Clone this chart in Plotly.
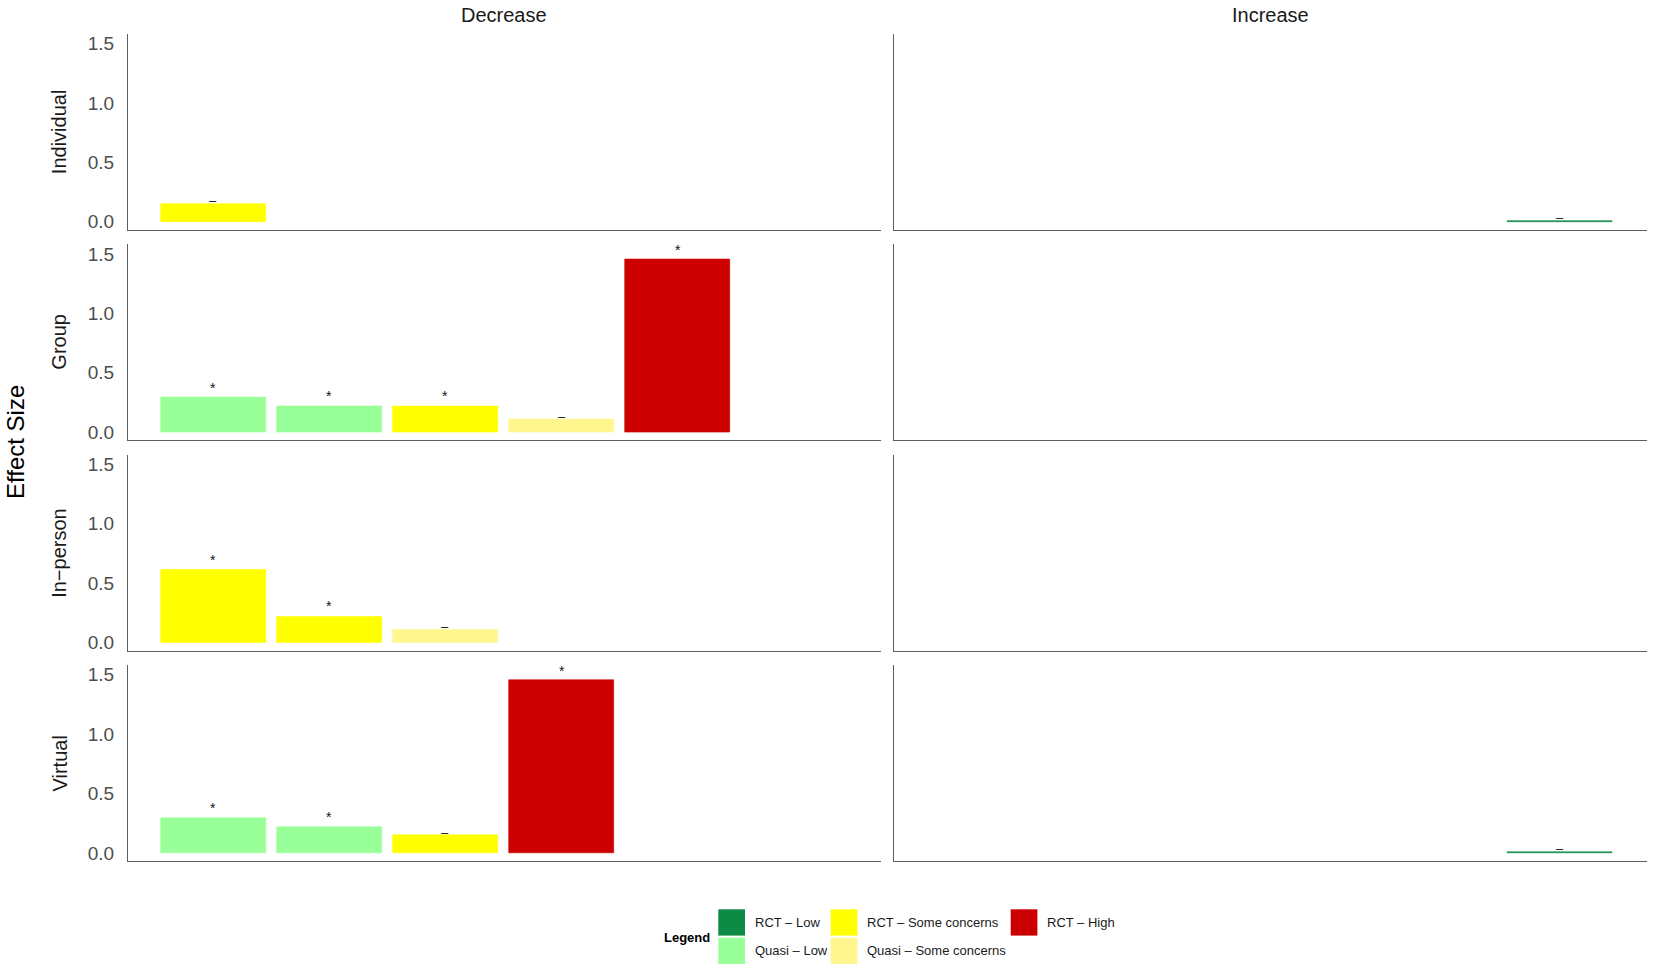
import plotly.graph_objects as go
from plotly.subplots import make_subplots

# ---------------- data ----------------
row_names = ["Individual", "Group", "In\u2212person", "Virtual"]
col_names = ["Decrease", "Increase"]

bar_row = ["Individual", "Individual",
           "Group", "Group", "Group", "Group", "Group",
           "In\u2212person", "In\u2212person", "In\u2212person",
           "Virtual", "Virtual", "Virtual", "Virtual", "Virtual"]
bar_col = ["Decrease", "Increase",
           "Decrease", "Decrease", "Decrease", "Decrease", "Decrease",
           "Decrease", "Decrease", "Decrease",
           "Decrease", "Decrease", "Decrease", "Decrease", "Increase"]
bar_pos = [1, 6,
           1, 2, 3, 4, 5,
           1, 2, 3,
           1, 2, 3, 4, 6]
bar_value = [0.15, 0.01,
             0.29, 0.22, 0.22, 0.11, 1.45,
             0.61, 0.22, 0.11,
             0.29, 0.22, 0.15, 1.45, 0.01]
bar_group = ["RCT \u2013 Some concerns", "RCT \u2013 Low",
             "Quasi \u2013 Low", "Quasi \u2013 Low", "RCT \u2013 Some concerns",
             "Quasi \u2013 Some concerns", "RCT \u2013 High",
             "RCT \u2013 Some concerns", "RCT \u2013 Some concerns", "Quasi \u2013 Some concerns",
             "Quasi \u2013 Low", "Quasi \u2013 Low", "RCT \u2013 Some concerns",
             "RCT \u2013 High", "RCT \u2013 Low"]
bar_sig = ["\u2013", "\u2013",
           "*", "*", "*", "\u2013", "*",
           "*", "*", "\u2013",
           "*", "*", "\u2013", "*", "\u2013"]

legend_groups = ["RCT \u2013 Low", "Quasi \u2013 Low",
                 "RCT \u2013 Some concerns", "Quasi \u2013 Some concerns",
                 "RCT \u2013 High"]
group_colors = {
    "RCT \u2013 Low": "#0E8A47",
    "Quasi \u2013 Low": "#99FF99",
    "RCT \u2013 Some concerns": "#FFFF00",
    "Quasi \u2013 Some concerns": "#FFF68F",
    "RCT \u2013 High": "#CC0000",
}

y_ticks = [0.0, 0.5, 1.0, 1.5]

# ---------------- layout geometry ----------------
W, H = 1654, 971
ML, MR, MT, MB = 128, 7, 34, 110
PW = W - ML - MR
PH = H - MT - MB
FONT = "Liberation Sans, Arial, Helvetica, sans-serif"


def px_x(x):
    return (x - ML) / PW


def px_y(y):
    return (MT + PH - y) / PH


fig = make_subplots(rows=4, cols=2, shared_xaxes=False, shared_yaxes=False,
                    vertical_spacing=0.0175, horizontal_spacing=0.009)

for ri, rn in enumerate(row_names):
    for ci, cn in enumerate(col_names):
        k = ri * 2 + ci
        suffix = "" if k == 0 else str(k + 1)
        idx = [i for i in range(len(bar_value)) if bar_row[i] == rn and bar_col[i] == cn]
        fig.add_trace(go.Bar(
            x=[bar_pos[i] for i in idx] if idx else [None],
            y=[bar_value[i] for i in idx] if idx else [None],
            width=0.9,
            marker=dict(color=[group_colors[bar_group[i]] for i in idx] if idx else None,
                        line=dict(width=0.6,
                                  color=[group_colors[bar_group[i]] for i in idx] if idx else None)),
            showlegend=False,
            hoverinfo="skip",
        ), row=ri + 1, col=ci + 1)
        for i in idx:
            star = bar_sig[i] == "*"
            fig.add_annotation(
                x=bar_pos[i], y=bar_value[i],
                xref="x" + suffix, yref="y" + suffix,
                text=bar_sig[i], showarrow=False,
                yanchor="middle", yshift=10 if star else 3,
                font=dict(family=FONT, size=14 if star else 13, color="#111111"),
            )

axis_line = dict(showline=True, linecolor="#5E5E5E", linewidth=1.3,
                 showgrid=False, zeroline=False, ticks="")
fig.update_xaxes(range=[0.265, 6.749], showticklabels=False, **axis_line)
fig.update_yaxes(range=[-0.068, 1.58], tickvals=y_ticks,
                 ticktext=[f"{v:.1f}" for v in y_ticks],
                 tickfont=dict(family=FONT, size=19, color="#4D4D4D"),
                 ticklabelstandoff=9, **axis_line)
fig.update_yaxes(showticklabels=False, col=2)

# column strip titles
for cn, cx in zip(col_names, [504, 1270.5]):
    fig.add_annotation(x=px_x(cx), y=px_y(14.5), xref="paper", yref="paper",
                       text=cn, showarrow=False, xanchor="center", yanchor="middle",
                       font=dict(family=FONT, size=20, color="#1A1A1A"))

# row strip titles
row_centers = [(34.3 + 230) / 2, (243.3 + 440) / 2, (455 + 650.7) / 2, (666 + 861) / 2]
for rn, cy in zip(row_names, row_centers):
    fig.add_annotation(x=px_x(59), y=px_y(cy), xref="paper", yref="paper",
                       text=rn, showarrow=False, textangle=-90,
                       xanchor="center", yanchor="middle",
                       font=dict(family=FONT, size=20, color="#1A1A1A"))

# y-axis title
fig.add_annotation(x=px_x(16), y=px_y(442), xref="paper", yref="paper",
                   text="Effect Size", showarrow=False, textangle=-90,
                   xanchor="center", yanchor="middle",
                   font=dict(family=FONT, size=24, color="#000000"))

# legend (drawn as key boxes + labels)
fig.add_annotation(x=px_x(662), y=px_y(937.5), xref="paper", yref="paper",
                   text="<b>Legend</b>", showarrow=False, xanchor="left", yanchor="middle",
                   font=dict(family=FONT, size=13, color="#000000"))
key_cols = [718.3, 718.3, 830.7, 830.7, 1010.7]
key_rows = [909.3, 937.7, 909.3, 937.7, 909.3]
for g, kx, ky in zip(legend_groups, key_cols, key_rows):
    fig.add_shape(type="rect", xref="paper", yref="paper",
                  x0=px_x(kx), x1=px_x(kx + 26.7), y0=px_y(ky + 26.3), y1=px_y(ky),
                  fillcolor=group_colors[g], line=dict(width=0))
    fig.add_annotation(x=px_x(kx + 34.5), y=px_y(ky + 13.2), xref="paper", yref="paper",
                       text=g, showarrow=False, xanchor="left", yanchor="middle",
                       font=dict(family=FONT, size=13, color="#1A1A1A"))

fig.update_layout(
    width=W, height=H, autosize=False,
    margin=dict(l=ML, r=MR, t=MT, b=MB),
    paper_bgcolor="white", plot_bgcolor="white",
    showlegend=False, bargap=0,
    font=dict(family=FONT),
)

fig.write_html("out.html", config={"displayModeBar": False},
               post_script="document.body.style.margin='0';document.body.style.overflow='hidden';")
